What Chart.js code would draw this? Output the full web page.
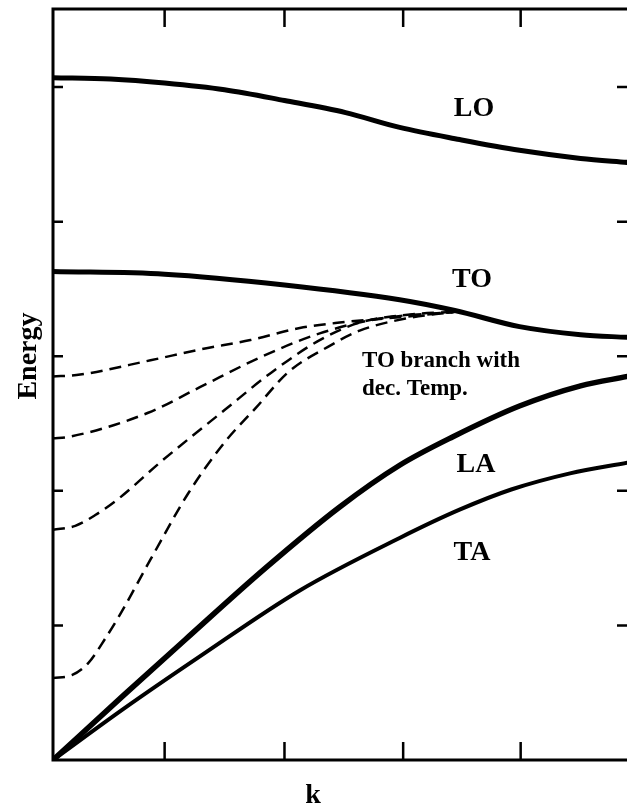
<!DOCTYPE html>
<html>
<head>
<meta charset="utf-8">
<script src="https://cdn.jsdelivr.net/npm/chart.js@4"></script>
<style>
  html, body { margin: 0; padding: 0; background: #fff; }
  #wrap { width: 627px; height: 810px; position: relative; }
</style>
</head>
<body>
<div id="wrap"><canvas id="chart1"></canvas></div>
<script>
// wave vector k (arbitrary units) and energy (ticks at 1..5)
var xTicks = [0.95, 1.97, 2.98, 3.98];
var yTicks = [1, 2, 3, 4, 5];

var loK = [0, 0.49, 0.95, 1.46, 1.97, 2.49, 2.95, 3.46, 3.97, 4.49, 4.89];
var loE = [5.07, 5.06, 5.03, 4.98, 4.90, 4.81, 4.70, 4.61, 4.53, 4.47, 4.44];

var toK = [0, 0.95, 1.97, 2.95, 3.42, 3.97, 4.49, 4.89];
var toE = [3.63, 3.61, 3.53, 3.42, 3.34, 3.22, 3.16, 3.14];

var laK = [0, 0.6, 1.12, 1.8, 2.44, 2.95, 3.40, 3.97, 4.49, 4.89];
var laE = [0, 0.48, 0.89, 1.42, 1.88, 2.19, 2.40, 2.63, 2.78, 2.85];

var taK = [0, 0.6, 1.25, 2.10, 2.95, 3.46, 3.9, 4.4, 4.89];
var taE = [0, 0.38, 0.77, 1.26, 1.65, 1.86, 2.01, 2.13, 2.21];

// TO branch at decreasing temperature (dashed)
var t1K = [0, 0.20, 0.83, 1.25, 1.68, 2.10, 2.44, 2.95, 3.42];
var t1E = [2.85, 2.86, 2.97, 3.05, 3.12, 3.21, 3.25, 3.29, 3.33];
var t2K = [0, 0.13, 0.81, 1.25, 1.76, 2.27, 2.78, 3.42];
var t2E = [2.39, 2.40, 2.58, 2.77, 2.99, 3.17, 3.28, 3.33];
var t3K = [0, 0.19, 0.36, 0.57, 0.91, 1.46, 1.86, 2.27, 2.61, 3.04, 3.42];
var t3E = [1.71, 1.74, 1.82, 1.95, 2.21, 2.60, 2.88, 3.12, 3.25, 3.31, 3.33];
var t4K = [0, 0.16, 0.30, 0.45, 0.57, 0.83, 1.15, 1.46, 1.73, 2.00, 2.34, 2.61, 3.00, 3.42];
var t4E = [0.61, 0.63, 0.72, 0.91, 1.08, 1.49, 1.98, 2.36, 2.62, 2.88, 3.07, 3.19, 3.28, 3.33];

function pts(xs, ys) {
  return xs.map(function (x, i) { return { x: x, y: ys[i] }; });
}

function solid(data, width) {
  return { data: data, borderColor: "#000", borderWidth: width, pointRadius: 0,
           fill: false, cubicInterpolationMode: "monotone" };
}

function dashed(data) {
  return { data: data, borderColor: "#000", borderWidth: 2.5, borderDash: [12, 7],
           pointRadius: 0, fill: false, cubicInterpolationMode: "monotone" };
}

// frame, inward ticks and text labels
var decor = {
  id: "decor",
  afterDatasetsDraw: function (chart) {
    var ctx = chart.ctx;
    var a = chart.chartArea;
    var xs = chart.scales.x, ys = chart.scales.y;
    ctx.save();
    ctx.strokeStyle = "#000";
    ctx.lineWidth = 3;
    ctx.beginPath();
    ctx.moveTo(a.right + 2, a.top);
    ctx.lineTo(a.left, a.top);
    ctx.lineTo(a.left, a.bottom);
    ctx.lineTo(a.right + 2, a.bottom);
    ctx.stroke();

    ctx.lineWidth = 2.5;
    xTicks.forEach(function (v) {
      var px = xs.getPixelForValue(v);
      ctx.beginPath();
      ctx.moveTo(px, a.bottom); ctx.lineTo(px, a.bottom - 18);
      ctx.moveTo(px, a.top); ctx.lineTo(px, a.top + 18);
      ctx.stroke();
    });
    yTicks.forEach(function (v) {
      var py = ys.getPixelForValue(v);
      ctx.beginPath();
      ctx.moveTo(a.left, py); ctx.lineTo(a.left + 10, py);
      ctx.moveTo(a.right, py); ctx.lineTo(a.right - 10, py);
      ctx.stroke();
    });

    ctx.fillStyle = "#000";
    ctx.textAlign = "center";
    ctx.textBaseline = "alphabetic";
    ctx.font = "bold 28px 'Liberation Serif'";
    ctx.fillText("LO", 474, 116);
    ctx.fillText("TO", 472, 287);
    ctx.fillText("LA", 476, 472);
    ctx.fillText("TA", 472, 560);
    ctx.fillText("k", 313, 803);

    ctx.textAlign = "left";
    ctx.font = "bold 23px 'Liberation Serif'";
    ctx.fillText("TO branch with", 362, 367);
    ctx.fillText("dec. Temp.", 362, 395);

    ctx.translate(36, 356);
    ctx.rotate(-Math.PI / 2);
    ctx.textAlign = "center";
    ctx.font = "bold 28px 'Liberation Serif'";
    ctx.fillText("Energy", 0, 0);
    ctx.restore();
  }
};

var ctx = document.getElementById("chart1");
var myChart = new Chart(ctx, {
  type: "line",
  data: {
    datasets: [
      solid(pts(loK, loE), 5),
      solid(pts(toK, toE), 5),
      solid(pts(laK, laE), 5.5),
      solid(pts(taK, taE), 4),
      dashed(pts(t1K, t1E)),
      dashed(pts(t2K, t2E)),
      dashed(pts(t3K, t3E)),
      dashed(pts(t4K, t4E)),
    ],
  },
  options: {
    responsive: true,
    maintainAspectRatio: false,
    animation: false,
    layout: { padding: { left: 53, top: 9, right: 0, bottom: 50 } },
    plugins: { legend: { display: false }, tooltip: { enabled: false } },
    scales: {
      x: { type: "linear", min: 0, max: 4.885, display: false },
      y: { type: "linear", min: 0, max: 5.58, display: false },
    },
  },
  plugins: [decor],
});
</script>
</body>
</html>
